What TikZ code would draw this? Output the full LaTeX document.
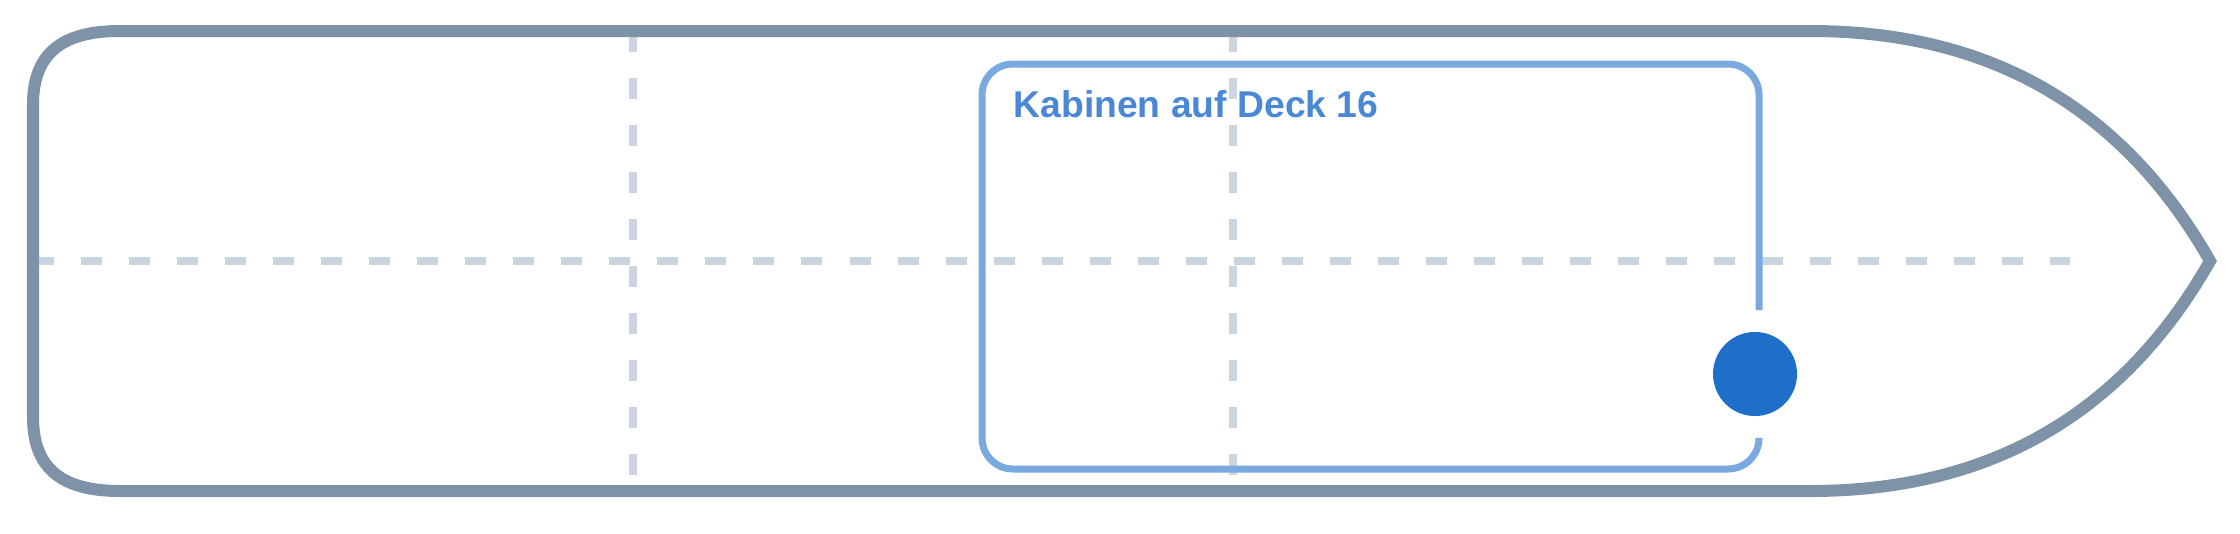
\documentclass[tikz,border=0pt]{standalone}
\usepackage{fontspec}
\setmainfont{Liberation Sans}
\usepackage{tikz}

\definecolor{hullgray}{RGB}{127,147,168}
\definecolor{gridgray}{RGB}{203,213,225}
\definecolor{boxblue}{RGB}{122,169,224}
\definecolor{textblue}{RGB}{74,136,214}
\definecolor{pinblue}{RGB}{29,111,202}

\begin{document}
\begin{tikzpicture}[x=0.01cm, y=-0.01cm]
\tikzstyle{hull} = [draw=hullgray, line width=0.12cm]
\tikzstyle{gridline} = [draw=gridgray, line width=0.08cm, dash pattern=on 0.21cm off 0.27cm]
\tikzstyle{cabinbox} = [draw=boxblue, line width=0.07cm, rounded corners=0.31cm]
\tikzstyle{cabinlabel} = [text=textblue, font=\fontsize{10.6pt}{12pt}\selectfont\bfseries, inner sep=0]
\tikzstyle{marker} = [circle, fill=pinblue, minimum size=0.84cm, inner sep=0]
\useasboundingbox (0,0) rectangle (2240,533);
% grid
\draw [gridline] (33,261) -- (2070,261);
\foreach \x in {633, 1233}
\draw [gridline, dash pattern=on 0.21cm off 0.26cm] (\x,31) -- (\x,491);
% hull
\draw [hull] (1810,31) -- (120,31)
  .. controls (60,31) and (33,55) .. (33,105) -- (33,417)
  .. controls (33,467) and (60,491) .. (120,491) -- (1810,491)
  .. controls (1990,491) and (2123,414) .. (2210,261)
  .. controls (2123,108) and (1990,31) .. (1810,31) -- cycle;
% cabins
\draw [cabinbox] (1759,438) -- (1759,469) -- (982,469) -- (982,64) -- (1759,64) -- (1759,310);
\node [cabinlabel, anchor=base west] (deck) at (1013,117) {Kabinen auf Deck 16};
\node [marker] (pin) at (1755,374) {};
\end{tikzpicture}
\end{document}
